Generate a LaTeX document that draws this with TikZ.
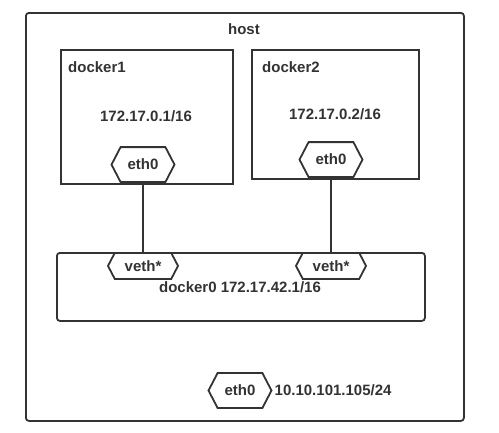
\documentclass[tikz,border=0pt]{standalone}
\usepackage{fontspec}
\setmainfont{Liberation Sans}
\usetikzlibrary{shapes.symbols,positioning}
\definecolor{ink}{HTML}{333333}
\tikzset{
  box/.style={draw=ink, line width=1.8pt, inner sep=0pt},
  port/.style={signal, signal to=west and east, signal pointer angle=125,
    draw=ink, fill=white, line width=1.8pt, inner sep=0pt,
    minimum width=63pt, minimum height=35pt, text=ink,
    font=\bfseries\fontsize{15}{17}\selectfont},
  lbl/.style={text=ink, inner sep=0pt, font=\bfseries\fontsize{15}{17}\selectfont},
}
\begin{document}
\begin{tikzpicture}[x=1pt,y=-1pt]
    \useasboundingbox (0,0) rectangle (499,432);

    % host
    \node[box, rounded corners=3pt, minimum width=438pt, minimum height=408pt, anchor=north west] (host) at (25,12) {};
    \node[lbl] (hostlbl) at (244,29) {host};

    % containers
    \node[box, minimum width=172pt, minimum height=134pt, anchor=north west] (docker1) at (60,49) {};
    \node[box, minimum width=167pt, minimum height=129pt, anchor=north west] (docker2) at (251,49) {};
    \node[lbl, anchor=west] (d1lbl) at (68,67) {docker1};
    \node[lbl, anchor=west] (d2lbl) at (262,67) {docker2};
    \node[lbl] (d1ip) at (146,116) {172.17.0.1/16};
    \node[lbl] (d2ip) at (335,114) {172.17.0.2/16};
    \node[port, anchor=south] (eth1) at (143,183) {eth0};
    \node[port, anchor=south] (eth2) at (331,178) {eth0};

    % bridge
    \node[box, rounded corners=3pt, minimum width=368pt, minimum height=68pt, anchor=north west] (docker0) at (56,252) {};
    \node[port, anchor=north, minimum width=70pt, minimum height=26pt] (veth1) at (143,252) {veth*};
    \node[port, anchor=north, minimum width=70pt, minimum height=26pt] (veth2) at (331,252) {veth*};
    \node[lbl] (brlbl) at (240,287) {docker0 172.17.42.1/16};

    \draw[ink, line width=1.8pt] (eth1.south) -- (veth1.north);
    \draw[ink, line width=1.8pt] (eth2.south) -- (veth2.north);

    % host nic
    \node[port] (eth3) at (240,390.5) {eth0};
    \node[lbl, right=2pt of eth3] (hostip) {10.10.101.105/24};

\end{tikzpicture}
\end{document}
